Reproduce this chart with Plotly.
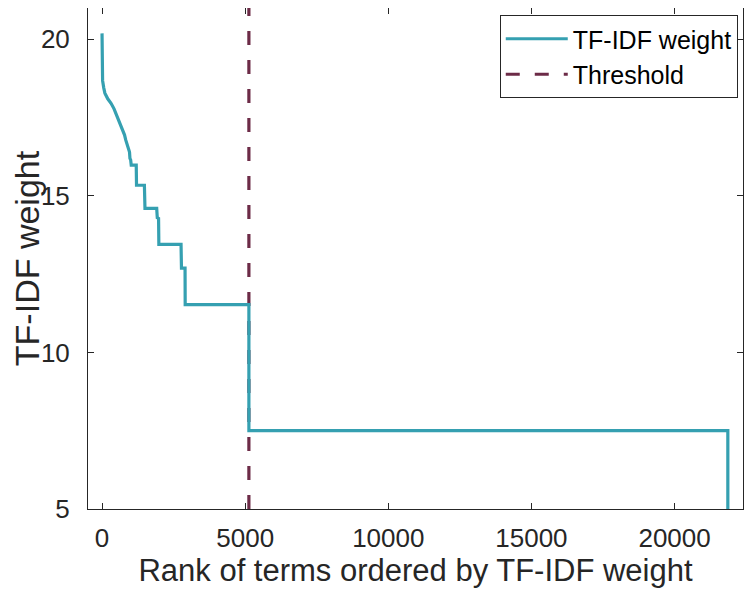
import plotly.graph_objects as go

# Rank of terms (x) and TF-IDF weight (y)
rank = [0, 10, 20, 60, 100, 200, 320, 420, 495, 580, 670, 740, 785, 830, 870,
        900, 960, 975, 1000, 1020, 1195, 1205, 1480, 1500, 1910, 1930, 1975,
        1985, 2760, 2775, 2900, 2905, 5130, 5130, 21860, 21860]
weight = [20.19, 19.2, 18.68, 18.45, 18.28, 18.1, 17.95, 17.78, 17.62, 17.45,
          17.25, 17.05, 16.95, 16.78, 16.66, 16.55, 16.40, 16.2, 16.15, 15.98,
          15.98, 15.34, 15.34, 14.6, 14.6, 14.3, 14.28, 13.45, 13.45, 12.69,
          12.69, 11.53, 11.53, 7.5, 7.5, 4.0]

threshold_rank = 5130
y_range = [5, 21]
x_range = [-490, 22390]
x_ticks = [0, 5000, 10000, 15000, 20000]
y_ticks = [5, 10, 15, 20]

TEAL = "#35A0B1"
MAROON = "#6C2B47"
AX = "#262626"
FONT = "Liberation Sans, Arial, Helvetica, sans-serif"

fig = go.Figure()
# threshold drawn first so the TF-IDF curve sits on top of it
fig.add_trace(go.Scatter(
    x=[threshold_rank, threshold_rank], y=y_range, mode="lines", name="Threshold",
    line=dict(color=MAROON, width=3.2, dash="14px,15px"), legendrank=2,
))
fig.add_trace(go.Scatter(
    x=rank, y=weight, mode="lines", name="TF-IDF weight",
    line=dict(color=TEAL, width=3.2), legendrank=1,
))

axis_common = dict(
    showline=True, linecolor=AX, linewidth=1, mirror="ticks",
    ticks="inside", ticklen=6, tickcolor=AX, tickwidth=1,
    showgrid=False, zeroline=False, automargin=False,
    tickfont=dict(family=FONT, size=26, color=AX),
)

fig.update_layout(
    width=753, height=595,
    margin=dict(l=80, r=18, t=0, b=94),
    paper_bgcolor="white", plot_bgcolor="white",
    font=dict(family=FONT, color=AX),
    xaxis=dict(range=x_range, tickvals=x_ticks,
               ticktext=[str(v) for v in x_ticks],
               ticklabelstandoff=6,
               title=dict(text="Rank of terms ordered by TF-IDF weight",
                          font=dict(family=FONT, size=31, color=AX), standoff=6),
               **axis_common),
    yaxis=dict(range=y_range, tickvals=y_ticks,
               ticktext=[str(v) for v in y_ticks],
               ticklabelstandoff=12,
               title=dict(text="TF-IDF weight",
                          font=dict(family=FONT, size=34, color=AX), standoff=8),
               **axis_common),
    legend=dict(x=0.992, y=0.986, xanchor="right", yanchor="top",
                bgcolor="white", bordercolor=AX, borderwidth=1,
                font=dict(family=FONT, size=25, color="#000000"),
                itemwidth=62, tracegroupgap=0, traceorder="normal"),
    showlegend=True,
)

fig.write_html("out.html")
